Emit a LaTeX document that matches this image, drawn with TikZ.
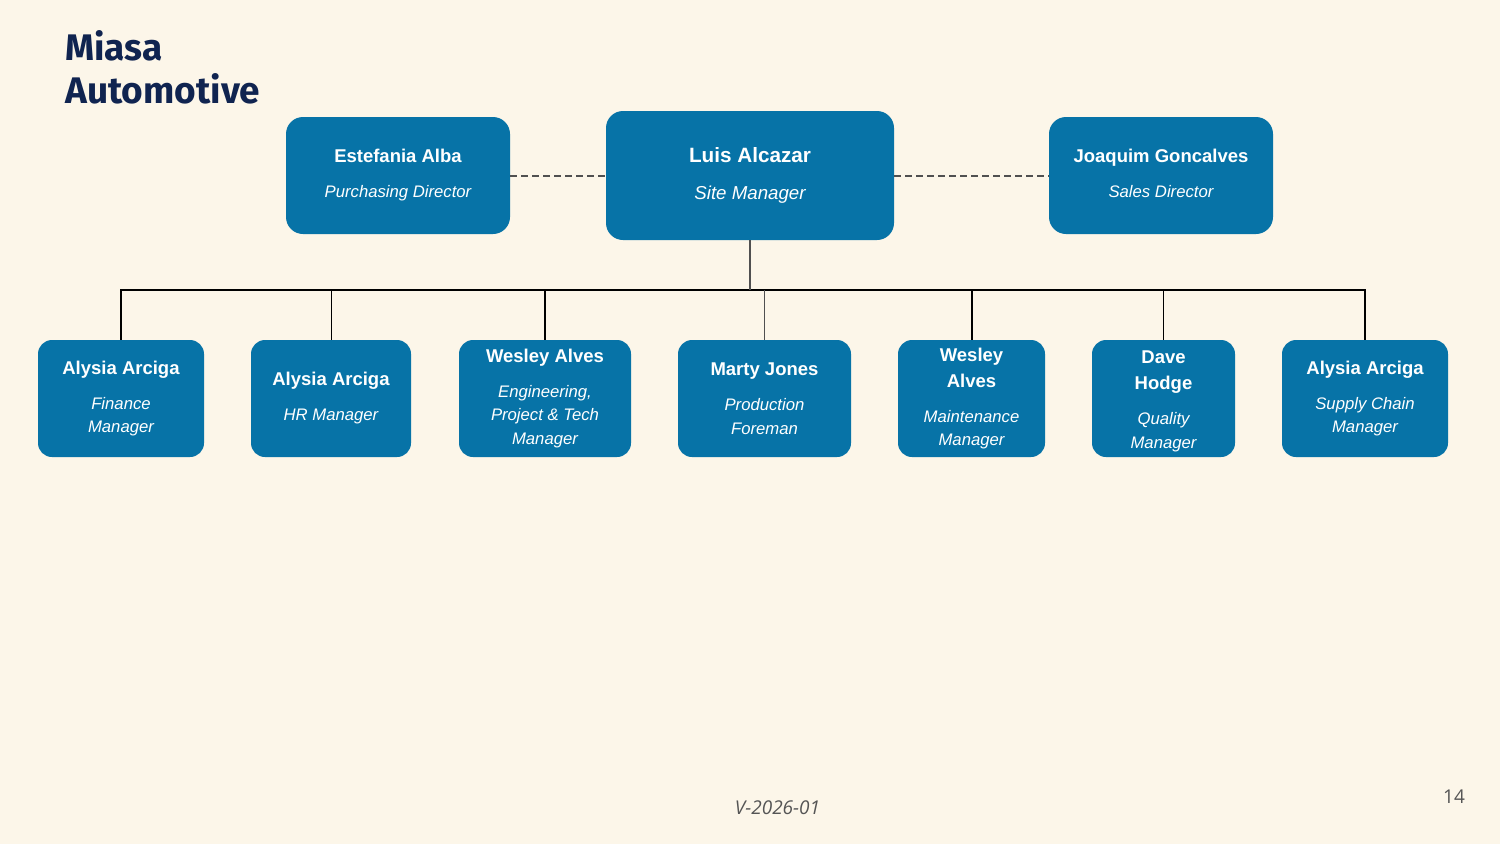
\documentclass[tikz,border=0pt]{standalone}
\usepackage{fontspec}
\setmainfont{Liberation Sans}
\newfontfamily\titlefam{Fira Sans}
\newfontfamily\footfam{Open Sans}
\usetikzlibrary{calc}
\definecolor{bg}{RGB}{252,246,233}
\definecolor{boxblue}{RGB}{7,115,167}
\definecolor{navy}{RGB}{16,36,80}
\definecolor{footgray}{RGB}{85,85,85}
\definecolor{linegray}{RGB}{80,80,80}
\newcommand{\nm}[1]{\fontsize{18.5}{23.5}\selectfont\bfseries #1}
\newcommand{\ti}[1]{\fontsize{16.7}{23.5}\selectfont\itshape #1}
\tikzset{
  person/.style={fill=boxblue, text=white, rounded corners=14pt, align=center,
    inner sep=0pt, minimum height=117pt, font=\fontsize{16.7}{23.5}\selectfont},
  topbox/.style={person, rounded corners=17pt},
  thickline/.style={draw=black, line width=2pt},
  thinline/.style={draw=black, line width=1pt},
  dashline/.style={draw=linegray, line width=2pt, dash pattern=on 6.5pt off 4.5pt}
}
\begin{document}
\begin{tikzpicture}[x=1pt,y=-1pt]
\fill[bg] (0,0) rectangle (1500,844);
\useasboundingbox (0,0) rectangle (1500,844);

\node[anchor=base west, text=navy, font=\titlefam\bfseries\fontsize{37}{43}\selectfont, align=left, inner sep=0pt] (title) at (65,103) {Miasa\\Automotive};

% top row
\node[topbox, minimum width=288pt, minimum height=129pt] (luis) at (750,175.5)
  {{\fontsize{20.7}{23.5}\selectfont\bfseries Luis Alcazar}\\[14pt]{\fontsize{18.7}{23.5}\selectfont\itshape Site Manager}};
\node[topbox, minimum width=224pt] (est) at (398,175.5)
  {\nm{Estefania Alba}\\[11.5pt]\ti{Purchasing Director}};
\node[topbox, minimum width=224pt] (joa) at (1161,175.5)
  {\nm{Joaquim Goncalves}\\[11.5pt]\ti{Sales Director\vphantom{g}}};

% bottom row
\node[person, minimum width=166pt] (b1) at (121,398.5)
  {\nm{Alysia Arciga}\\[11.5pt]\ti{Finance}\\\ti{Manager}};
\node[person, minimum width=160pt] (b2) at (331,398.5)
  {\nm{Alysia Arciga}\\[11.5pt]\ti{HR Manager}};
\node[person, minimum width=172pt] (b3) at (545,398.5)
  {\nm{Wesley Alves}\\[11.5pt]\ti{Engineering,}\\\ti{Project \& Tech}\\\ti{Manager}};
\node[person, minimum width=173pt] (b4) at (764.5,398.5)
  {\nm{Marty Jones}\\[11.5pt]\ti{Production}\\\ti{Foreman}};
\node[person, minimum width=147pt] (b5) at (971.5,398.5)
  {\nm{Wesley}\\[2.5pt]\nm{Alves}\\[11.5pt]\ti{Maintenance}\\\ti{Manager}};
\node[person, minimum width=143pt] (b6) at (1163.5,398.5)
  {\nm{\rule{0pt}{18.7pt}Dave}\\[2.5pt]\nm{Hodge}\\[11.5pt]\ti{Quality}\\\ti{Manager}};
\node[person, minimum width=166pt] (b7) at (1365,398.5)
  {\nm{Alysia Arciga}\\[11.5pt]\ti{Supply Chain}\\\ti{Manager}};

% connectors
\draw[dashline] (est.east) -- (luis.west);
\draw[dashline] (luis.east) -- (joa.west);
\coordinate (bus) at (750,290);
\draw[thickline] (b1.north) -- (b1.north |- bus) -- (b7.north |- bus) -- (b7.north);
\draw[thinline] (b2.north) -- (b2.north |- bus);
\draw[thickline] (b3.north) -- (b3.north |- bus);
\draw[draw=linegray, line width=1pt] (b4.north) -- (b4.north |- bus);
\draw[thickline] (b5.north) -- (b5.north |- bus);
\draw[thinline] (b6.north) -- (b6.north |- bus);
\draw[draw=linegray, line width=2pt] (luis.south) -- (bus);

% footer
\node[text=footgray, font=\footfam\itshape\fontsize{19}{22}\selectfont, inner sep=0pt] (ver) at (777.5,808) {V-2026-01};
\node[text=footgray, font=\footfam\fontsize{19}{22}\selectfont, inner sep=0pt] (page) at (1454,797) {14};
\end{tikzpicture}
\end{document}
